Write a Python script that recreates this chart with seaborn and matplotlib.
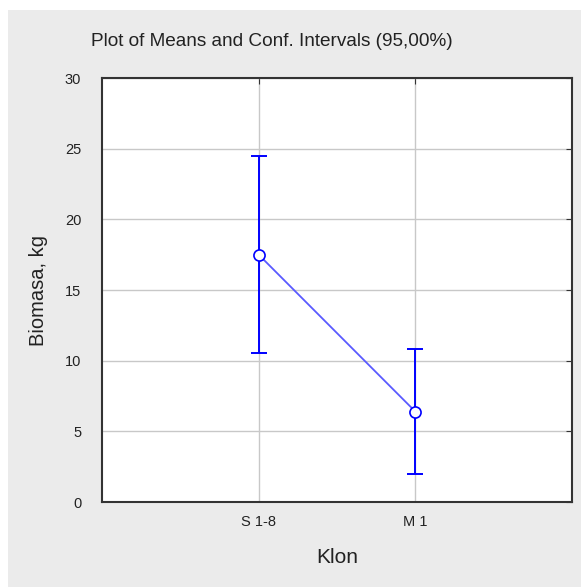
import numpy as np
import pandas as pd
import matplotlib
matplotlib.use("Agg")
import matplotlib.pyplot as plt
import seaborn as sns
from matplotlib.patches import Rectangle

# data
klon = ["S 1-8", "M 1"]
means = [17.5, 6.4]
ci_low = [10.55, 1.95]
ci_high = [24.5, 10.85]

df = pd.DataFrame({"Klon": klon, "mean": means, "lo": ci_low, "hi": ci_high})

sns.set_style("white")
plt.rcParams["font.family"] = ["Liberation Sans", "DejaVu Sans"]

fig = plt.figure(figsize=(5.81, 5.87), dpi=100, facecolor="white")
# grey panel behind everything (white strip on top/left like the original)
fig.patches.append(Rectangle((8 / 581, 0), 1, 1 - 10 / 587, transform=fig.transFigure,
                             facecolor="#ebebeb", edgecolor="none", zorder=-10))

ax = fig.add_axes([102 / 581, 1 - 502 / 587, 470 / 581, 424 / 587])
ax.set_facecolor("white")

sns.lineplot(data=df, x="Klon", y="mean", color="#5a5aff", lw=1.3, ax=ax, zorder=3)
yerr = [df["mean"] - df["lo"], df["hi"] - df["mean"]]
ax.errorbar(df["Klon"], df["mean"], yerr=yerr, fmt="none", ecolor="#0000ff",
            elinewidth=1.4, capsize=6, capthick=1.4, zorder=4)
ax.plot(df["Klon"], df["mean"], "o", ms=8, mfc="white", mec="#0000ff", mew=1.2, zorder=5)

ax.set_xlim(-1, 2)
ax.set_ylim(0, 30)
ax.set_yticks([0, 5, 10, 15, 20, 25, 30])
ax.grid(True, color="#c8c8c8", lw=1)
ax.set_axisbelow(True)

for s in ax.spines.values():
    s.set_visible(True)
    s.set_color("#333333")
    s.set_linewidth(1.5)

ax.tick_params(direction="in", length=4, top=True, right=True, color="#333333",
               labelsize=10.5, labelcolor="#222222")
ax.tick_params(axis="y", pad=15)
ax.tick_params(axis="x", pad=9)

ax.set_xlabel("Klon", fontsize=15, color="#222222")
ax.set_ylabel("Biomasa, kg", fontsize=14.5, color="#222222")
ax.xaxis.set_label_coords(0.5, -0.108)
ax.yaxis.set_label_coords(-0.115, 0.5)

fig.text(272 / 581, 1 - 42 / 587, "Plot of Means and Conf. Intervals (95,00%)",
         ha="center", va="center", fontsize=13.7, color="#222222")

fig.savefig("out.png", dpi=100, facecolor=fig.get_facecolor())
